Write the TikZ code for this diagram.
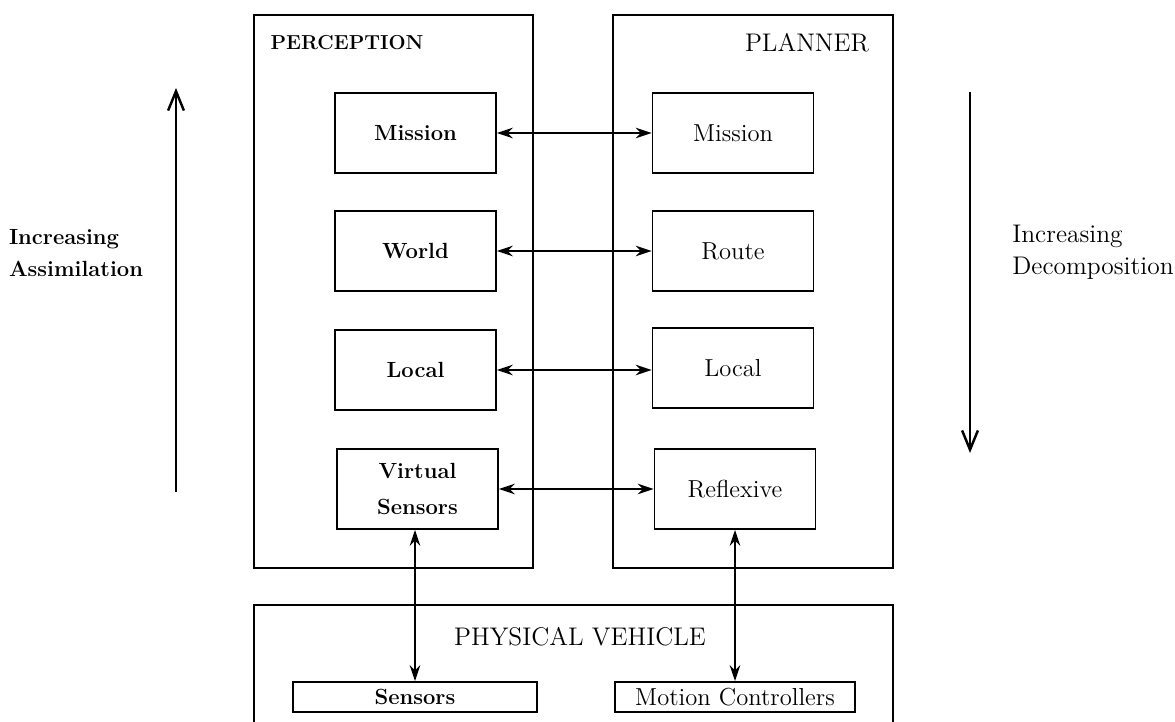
\documentclass[tikz,border=0pt]{standalone}
\usepackage{tikz}
\usetikzlibrary{arrows.meta}

\begin{document}
\begin{tikzpicture}[x=0.02cm,y=-0.02cm,>={Stealth[length=9pt,width=6pt]},semithick]

  \tikzstyle{outer}=[rectangle,draw,line width=1.6pt,inner sep=0pt]
  \tikzstyle{level}=[rectangle,draw,line width=1.1pt,minimum width=3.22cm,minimum height=1.6cm,
                     align=center,font=\fontsize{14}{20}\selectfont]
  \tikzstyle{device}=[level,minimum height=0.6cm]
  \tikzstyle{title}=[font=\fontsize{14.5}{16}\selectfont]
  \tikzstyle{link}=[<->,line width=1.2pt]
  \tikzstyle{trend}=[line width=1.4pt,-{Straight Barb[length=11pt,width=9pt]}]

  \useasboundingbox (0,0) rectangle (1175,722);

  % the three big boxes
  \node[outer,minimum width=5.58cm,minimum height=11.06cm] (perc) at (393.5,291.5) {};
  \node[outer,minimum width=5.6cm,minimum height=11.06cm]  (plan) at (753,291.5) {};
  \node[outer,minimum width=12.78cm,minimum height=2.6cm]  (veh)  at (573.5,670) {};

  \node[font=\fontsize{11.5}{16}\selectfont\bfseries] (ptitle) at (347,43)  {PERCEPTION};
  \node[title]                                        (ltitle) at (807,43)  {PLANNER};
  \node[title]                                        (vtitle) at (580,637) {PHYSICAL VEHICLE};

  % perception levels
  \node[level,font=\fontsize{12.5}{20}\selectfont\bfseries] (pmis) at (415.5,133) {Mission};
  \node[level,font=\fontsize{12.5}{20}\selectfont\bfseries] (pwor) at (415.5,251) {World};
  \node[level,font=\fontsize{12.5}{20}\selectfont\bfseries] (ploc) at (415.5,370) {Local};
  \node[level,font=\fontsize{12.5}{20}\selectfont\bfseries] (pvir) at (417.5,489) {Virtual\\Sensors};

  % planner levels
  \node[level] (lmis) at (733,133) {Mission};
  \node[level] (lrou) at (733,251) {Route};
  \node[level] (lloc) at (733,368) {Local};
  \node[level] (lref) at (735,489) {Reflexive};

  % vehicle parts
  \node[device,minimum width=4.88cm,font=\fontsize{12.5}{20}\selectfont\bfseries] (sens) at (415,697) {Sensors};
  \node[device,minimum width=4.8cm] (moco) at (735,697) {Motion Controllers};

  \path[link]
  (pmis) edge (lmis)
  (pwor) edge (lrou)
  (ploc.east) edge (ploc.east -| lloc.west)
  (pvir) edge (lref)
  (sens.north) edge (sens.north |- pvir.south)
  (moco.north) edge (moco.north |- lref.south)
  ;

  % side trends
  \coordinate (abot) at (176,492);
  \coordinate (atop) at (176,88);
  \coordinate (dtop) at (970,92);
  \coordinate (dbot) at (970,453);
  \draw[trend] (abot) -- (atop);
  \draw[trend] (dtop) -- (dbot);

  \node[align=left,font=\fontsize{12.5}{18}\selectfont\bfseries] (assim) at (76,253)  {Increasing\\Assimilation};
  \node[align=left,font=\fontsize{14.5}{18}\selectfont]          (decom) at (1093,252) {Increasing\\Decomposition};

\end{tikzpicture}
\end{document}
